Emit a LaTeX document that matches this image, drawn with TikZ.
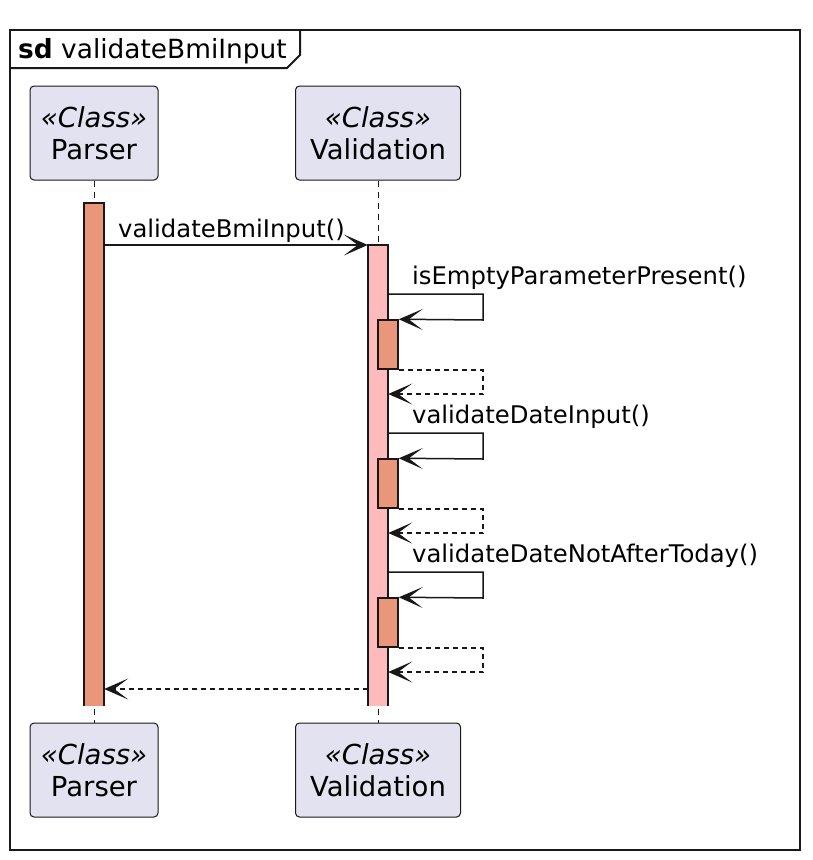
\documentclass[tikz,border=0pt]{standalone}
\usepackage{fontspec}
\setmainfont{DejaVu Sans}
\usetikzlibrary{arrows.meta,calc,positioning}
\definecolor{linecol}{HTML}{181818}
\definecolor{partfill}{HTML}{E2E2F0}
\definecolor{salmonact}{HTML}{E9967A}
\definecolor{pinkact}{HTML}{FFBBBB}

\begin{document}
\begin{tikzpicture}[x=1pt, y=-1pt,
  part/.style={draw=linecol, fill=partfill, rounded corners=4pt, line width=1pt,
    minimum height=94pt, align=center, inner sep=0pt, font=\fontsize{27.5}{32}\selectfont},
  act/.style={draw=linecol, line width=1.5pt, minimum width=20pt, inner sep=0pt},
  openact/.style={minimum width=20pt, inner sep=0pt},
  edge/.style={draw=linecol, line width=1.8pt},
  msg/.style={draw=linecol, line width=1.5pt, -{Stealth[length=24pt, width=21pt, inset=14pt]}},
  ret/.style={msg, dash pattern=on 5pt off 4pt},
  lbl/.style={font=\fontsize{24.3}{28}\selectfont, inner sep=0pt, anchor=base west},
  life/.style={draw=linecol, line width=0.8pt, dash pattern=on 6pt off 5pt}
]
\useasboundingbox (0,0) rectangle (812,860);

% 外框与标题
\draw[line width=2.5pt, draw=linecol] (10,30) rectangle (800,850);
\node[anchor=base west, inner sep=0pt, font=\fontsize{26.4}{30}\selectfont] (title) at (18,58)
  {\textbf{sd} validateBmiInput};
\draw[line width=2pt, draw=linecol] (10,68) -- (287,68) -- (300,55) -- (300,30);

% 参与者(上/下)
\node[part, minimum width=128pt] (parserTop) at (94,133) {\textit{«Class»}\\Parser};
\node[part, minimum width=165pt] (validTop) at (378,133) {\textit{«Class»}\\Validation};
\node[part, minimum width=128pt] (parserBot) at (94,770) {\textit{«Class»}\\Parser};
\node[part, minimum width=165pt] (validBot) at (378,770) {\textit{«Class»}\\Validation};

% 生命线
\draw[life] (parserTop.south) -- (parserBot.north);
\draw[life] (validTop.south) -- (validBot.north);

% 激活条(底部不封口)
\node[openact, fill=salmonact, minimum height=503pt] (parserAct) at (94,454.5) {};
\node[openact, fill=pinkact, minimum height=461pt] (validAct) at (378,475.5) {};
\foreach \a in {parserAct, validAct}
  \draw[edge] (\a.south west) -- (\a.north west) -- (\a.north east) -- (\a.south east);

% 调用 validateBmiInput()
\draw[msg] (parserAct.east |- 0,245) -- (validAct.west |- 0,245);
\node[lbl] (call0) at (118,237) {validateBmiInput()};

% 三个自调用
\foreach \txt/\y [count=\i] in {isEmptyParameterPresent()/294,
    validateDateInput()/433, validateDateNotAfterToday()/572} {
  \node[act, fill=salmonact, minimum height=49pt] (inner\i) at (388,\y+50.5) {};
  \draw[msg] (validAct.east |- 0,\y) -| (483,\y+26) -- (inner\i.north east);
  \draw[ret] (inner\i.south east) -| (483,\y+100) -- (validAct.east |- 0,\y+100);
  \node[lbl] (call\i) at (412,\y-10) {\txt};
}

% 返回 Parser
\draw[ret] (validAct.west |- 0,689) -- (parserAct.east |- 0,689);

\end{tikzpicture}
\end{document}
